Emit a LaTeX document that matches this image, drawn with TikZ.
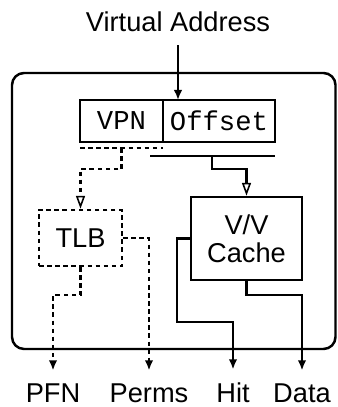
\documentclass[tikz,border=0pt]{standalone}
\usepackage{fontspec}
\setmainfont{Liberation Sans}
\setmonofont{Liberation Mono}
\usetikzlibrary{arrows.meta, positioning}
\newcommand{\diagfont}{\fontsize{15.5}{16}\selectfont}

\begin{document}
\begin{tikzpicture}[
    wire/.style={line width=1.4pt},
    dashes/.style={dash pattern=on 2.6pt off 2pt},
    sigout/.style={-{Latex[length=2mm, width=1.7mm]}},
    sigin/.style={-{Triangle[open, length=2.6mm, width=1.8mm, line width=0.9pt]}},
    field/.style={draw, line width=1.4pt, font=\diagfont\ttfamily, minimum height=0.84cm, inner sep=0pt, outer sep=0pt},
    unit/.style={draw, line width=1.4pt, font=\diagfont, align=center, inner sep=0pt},
    iolabel/.style={font=\diagfont, inner sep=0pt}
]
    \useasboundingbox (0,0) rectangle (6.74,8.14);
    \draw[wire, rounded corners=2.4mm] (0.24,1.16) rectangle (6.71,6.68);

    % address register
    \node[iolabel] (vaddr) at (3.56,7.70) {Virtual Address};
    \node[field, minimum width=1.66cm] (vpn) at (2.43,5.72) {VPN};
    \node[field, minimum width=2.24cm, right=0pt of vpn] (offset) {Offset};

    % lookup units
    \node[unit, dashes, minimum width=1.66cm, minimum height=1.12cm] (tlb) at (1.61,3.38) {TLB};
    \node[unit, minimum width=2.22cm, minimum height=1.66cm] (cache) at (4.93,3.37) {V/V\\Cache};

    % outputs
    \node[iolabel, anchor=base] (pfn) at (1.06,0.08) {PFN};
    \node[iolabel, anchor=base] (perms) at (2.98,0.08) {Perms};
    \node[iolabel, anchor=base] (hit) at (4.66,0.08) {Hit};
    \node[iolabel, anchor=base] (data) at (6.04,0.08) {Data};

    \draw[wire, sigout, shorten <=2.6mm] (vaddr.south) -- (vaddr.south |- offset.north);

    % buses
    \coordinate (vbus) at ([yshift=-1.2mm]vpn.south);
    \coordinate (obus) at ([xshift=-1.4mm, yshift=-2.8mm]offset.south);
    \draw[wire, dashes] ([yshift=-1.2mm]vpn.south west) -- ([yshift=-1.2mm]vpn.south east);
    \draw[wire] ([xshift=-2.6mm, yshift=-2.8mm]offset.south west) -- ([yshift=-2.8mm]offset.south east);
    \draw[wire, dashes, sigin] (vbus) -- ++(0,-0.42) -| (tlb.north);
    \draw[wire, sigin] (obus) -- ++(0,-0.26) -| (cache.north);

    \draw[wire, dashes, sigout] (tlb.south) -- ++(0,-0.56) -| ([yshift=2.7mm]pfn.north);
    \draw[wire, dashes, sigout] (tlb.east) -| ([yshift=2.7mm]perms.north);
    \draw[wire, sigout] (cache.west) -| (3.54,1.70) -| ([yshift=2.7mm]hit.north);
    \draw[wire, sigout] (cache.south) -- ++(0,-0.28) -| ([yshift=2.7mm]data.north);
\end{tikzpicture}
\end{document}
